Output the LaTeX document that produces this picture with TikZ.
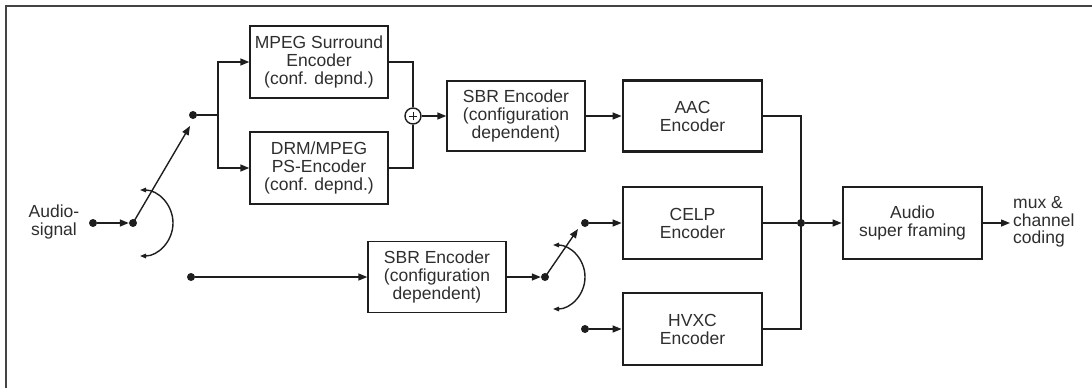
\documentclass[tikz,border=0pt]{standalone}
\usepackage{fontspec}
\setmainfont{Liberation Sans}
\usetikzlibrary{arrows.meta}
\definecolor{ink}{HTML}{1E1E1E}
\definecolor{txt}{HTML}{2E2E2E}
\definecolor{framec}{HTML}{444444}
\begin{document}
\begin{tikzpicture}[x=1pt,y=-1pt,
  thinbox/.style={draw=ink, line width=1.4pt, minimum width=138pt, minimum height=72pt,
    inner sep=0pt, align=center, text=txt, font=\fontsize{17.5}{18}\selectfont},
  thickbox/.style={thinbox, line width=2.8pt},
  dot/.style={circle, fill=ink, inner sep=0pt, minimum size=8pt},
  ln/.style={line width=1.4pt, draw=ink},
  arr/.style={ln, -{Triangle[length=9pt,width=7pt]}},
  swarc/.style={line width=1.4pt, draw=ink, {Triangle[length=6pt,width=4.5pt]}-{Triangle[length=6pt,width=4.5pt]}},
  lbl/.style={text=txt, inner sep=0pt, font=\fontsize{17.5}{17.5}\selectfont}
]
\useasboundingbox (0,0) rectangle (1092,388);
\draw[line width=2pt, draw=framec] (6,388) -- (6,6) -- (1092,6);

% boxes
\node[thinbox] (mps) at (319,62) {MPEG Surround\\Encoder\\(conf. depnd.)};
\node[thinbox] (drm) at (319,168) {DRM/MPEG\\PS-Encoder\\(conf. depnd.)};
\node[thinbox, minimum height=70pt] (sbra) at (516,116) {SBR Encoder\\(configuration\\dependent)};
\node[thinbox, minimum height=71pt] (sbrb) at (437,277) {SBR Encoder\\(configuration\\dependent)};
\node[thickbox, minimum width=139pt, minimum height=71pt] (aac) at (692.5,116) {AAC\\Encoder};
\node[thickbox, minimum width=139pt] (celp) at (692.5,223) {CELP\\Encoder};
\node[thickbox, minimum width=139pt] (hvxc) at (692.5,329) {HVXC\\Encoder};
\node[thickbox, minimum width=139pt] (asf) at (912.5,223) {Audio\\super framing};
\node[circle, draw=ink, line width=1.4pt, minimum size=16pt, inner sep=0pt] (plus) at (413,116) {};
\draw[ln, line width=1pt] (409,116) -- (417,116) (413,112) -- (413,120);

% labels
\node[lbl, align=center] (asig) at (54,222) {Audio-\\signal};
\node[lbl, align=left, anchor=west] (mux) at (1013,222) {mux \&\\channel\\coding};

% dots and points
\node[dot] (ain) at (93,223) {};
\node[dot] (piva) at (133,223) {};
\node[dot] (upa) at (193,115) {};
\node[dot] (loa) at (191,277) {};
\coordinate (bra) at (218,115);
\coordinate (tipa) at (190,126);
\node[dot] (pivb) at (545,277) {};
\node[dot] (cin) at (585,223) {};
\node[dot] (hin) at (585,329) {};
\coordinate (tipb) at (578,229);
\node[dot] (bus) at (801,223) {};
\coordinate (out) at (1010,223);

% connectors
\draw[arr] (ain) -- (piva);
\draw[arr] (piva.center) -- (tipa);
\draw[swarc] (140,190) arc[start angle=-90, end angle=90, radius=33];
\draw[ln] (upa) -- (bra);
\draw[arr] (bra) |- (mps);
\draw[arr] (bra) |- (drm);
\draw[ln] (mps.east) -| (plus.north);
\draw[ln] (drm.east) -| (plus.south);
\draw[arr] (plus) -- (sbra);
\draw[arr] (sbra) -- (aac);
\draw[arr] (loa) -- (sbrb);
\draw[arr] (sbrb) -- (pivb);
\draw[arr] (pivb.center) -- (tipb);
\draw[swarc] (553,245) arc[start angle=-90, end angle=90, radius=32];
\draw[arr] (cin) -- (celp);
\draw[arr] (hin) -- (hvxc);
\draw[ln] (aac.east) -| (bus.center) |- (hvxc.east);
\draw[ln] (celp) -- (bus);
\draw[arr] (bus) -- (asf);
\draw[arr] (asf) -- (out);
\end{tikzpicture}
\end{document}
